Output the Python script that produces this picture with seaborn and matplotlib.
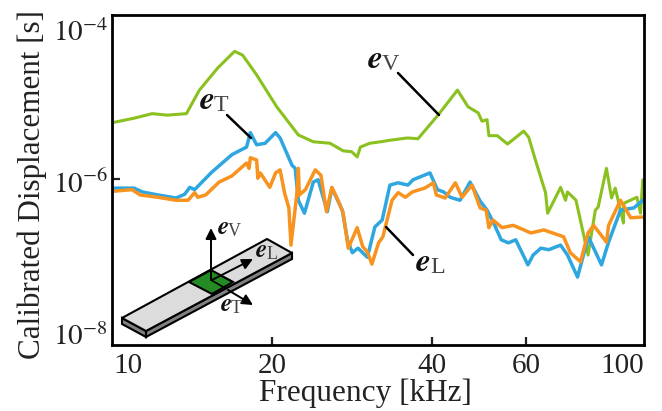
import numpy as np
import pandas as pd
import matplotlib
matplotlib.use('Agg')
import matplotlib.pyplot as plt
from matplotlib.patches import Polygon
from matplotlib.transforms import ScaledTranslation
import seaborn as sns

# frequency in kHz, displacement as log10(seconds)
freq_v = [10, 11, 11.9, 12.7, 13.8, 14.6, 15.8, 17.0, 17.6, 18.7, 20.4, 22.4, 23.9, 25.7, 27.2, 28.2, 28.9, 29.3,
          30.5, 32, 33.3, 35.9, 37.6, 41, 44.6, 46.7, 48.8, 49.6, 50.7, 51.1, 53, 55.4, 59.4, 60.7, 62.5, 65.3, 65.9,
          69.7, 71.2, 71.8, 74.5, 78.5, 81, 82, 85, 86.9, 88.3, 91.5, 91.6, 97, 98.5, 99.5]
log_v = [-5.26, -5.20, -5.14, -5.16, -5.14, -4.83, -4.54, -4.32, -4.37, -4.63, -5.05, -5.42, -5.51, -5.53, -5.63,
         -5.64, -5.71, -5.58, -5.53, -5.51, -5.49, -5.46, -5.47, -5.16, -4.83, -5.05, -5.13, -5.24, -5.22, -5.43,
         -5.43, -5.54, -5.37, -5.45, -5.75, -6.18, -6.45, -6.11, -6.28, -6.17, -6.28, -7.00, -6.41, -6.37, -5.86,
         -6.25, -6.12, -6.58, -6.32, -6.24, -6.45, -6.01]

freq_t = [10.1, 10.6, 11.0, 11.4, 12.2, 13.2, 13.7, 14.0, 14.3, 15.4, 16.8, 17.9, 18.2, 18.7, 19.4, 20.3, 20.7,
          21.8, 22.1, 22.4, 23.0, 23.9, 24.4, 25.4, 25.9, 27.1, 27.7, 28.3, 29.0, 30.2, 31.2, 32.2, 33.3, 34.5,
          36.0, 36.8, 39.6, 40.9, 42, 43.2, 45.1, 47.1, 49.2, 50.7, 52.1, 53.9, 55.6, 57.4, 60.5, 61.9, 64, 66.2,
          69.7, 71.8, 75, 78.6, 83.2, 85.7, 90.3, 95.7, 99.5]
log_t = [-6.12, -6.12, -6.12, -6.17, -6.21, -6.25, -6.20, -6.11, -6.14, -5.91, -5.68, -5.58, -5.39, -5.55, -5.53,
         -5.39, -5.46, -5.82, -5.86, -6.28, -6.45, -6.04, -6.01, -6.43, -6.12, -6.41, -6.80, -6.97, -6.91, -7.03,
         -6.63, -6.54, -6.08, -6.05, -6.08, -6.01, -5.92, -6.14, -6.17, -6.24, -6.28, -6.04, -6.29, -6.41, -6.57,
         -6.80, -6.84, -6.80, -7.13, -7.00, -6.91, -6.93, -6.87, -7.00, -7.29, -6.76, -7.13, -6.84, -6.41, -6.38,
         -6.28]

freq_l = [10.1, 10.9, 11.3, 12.2, 13.2, 13.9, 14.3, 14.5, 15, 15.9, 16.8, 17.9, 18.1, 18.2, 18.7, 18.8, 19, 19.8,
          20.3, 20.7, 21.1, 21.5, 21.7, 22.3, 22.4, 22.5, 23.1, 24.1, 24.7, 25.3, 25.9, 26.6, 27.2, 27.8, 28.9,
          29.6, 30.2, 30.8, 31.7, 32.3, 33.6, 34.5, 35.6, 36.7, 38.7, 40.2, 40.7, 42.3, 44.2, 45.5, 47.5, 49.2,
          50.5, 51.1, 52, 54.1, 56.8, 61.3, 64.8, 70.6, 72.7, 76, 78.5, 80.4, 85, 85.8, 90.3, 94.4, 99.5]
log_l = [-6.16, -6.14, -6.21, -6.24, -6.28, -6.28, -6.18, -6.24, -6.21, -6.04, -5.96, -5.79, -5.86, -5.72, -5.75,
         -5.99, -5.92, -6.11, -5.92, -5.88, -6.18, -6.38, -6.87, -6.14, -5.86, -6.21, -6.14, -5.88, -5.95, -6.43,
         -6.11, -6.28, -6.45, -6.91, -6.64, -6.89, -6.96, -7.12, -6.84, -6.76, -6.28, -6.18, -6.24, -6.17, -6.12,
         -6.05, -6.21, -6.25, -6.05, -6.24, -6.08, -6.38, -6.41, -6.64, -6.54, -6.64, -6.61, -6.71, -6.67, -6.76,
         -6.97, -7.09, -6.71, -6.61, -6.83, -6.61, -6.28, -6.51, -6.50]

x_ticks = [10, 20, 40, 60, 100]
y_ticks = [1e-8, 1e-6, 1e-4]
y_tick_labels = [r'$10^{-8}$', r'$10^{-6}$', r'$10^{-4}$']

sns.set_theme(style='ticks')
plt.rcParams['font.family'] = ['Liberation Serif', 'DejaVu Serif']
plt.rcParams['mathtext.fontset'] = 'stix'

fig = plt.figure(figsize=(6.62, 4.11), dpi=100)
ax = fig.add_axes([112 / 662, 1 - 345 / 411, 532 / 662, 330 / 411])

series = [(freq_v, log_v, '#8ac11f', 2.2), (freq_t, log_t, '#2ea7e0', 2.5), (freq_l, log_l, '#f7931e', 2.5)]
for f, lg, color, lw in series:
    df = pd.DataFrame({'freq': f, 'disp': np.power(10.0, lg)})
    sns.lineplot(data=df, x='freq', y='disp', ax=ax, color=color, linewidth=lw,
                 estimator=None, sort=False)

ax.set_xscale('log')
ax.set_yscale('log')
ax.set_xlim(10, 100)
ax.set_ylim(10 ** (-6 - 166 / 76), 10 ** (-6 + 164 / 76))
ax.set_xticks(x_ticks)
ax.set_xticklabels([str(t) for t in x_ticks], fontsize=21)
ax.set_yticks(y_ticks)
ax.set_yticklabels(y_tick_labels, fontsize=21)
ax.minorticks_off()
ax.tick_params(axis='y', direction='in', length=6, width=1.6, pad=3, colors='#222222')
ax.tick_params(axis='x', direction='in', length=6, width=1.6, pad=6, colors='#222222')
# only the middle y tick mark shows in the original, and no marks at the x ends
for i in [0, 2]:
    ax.yaxis.get_major_ticks()[i].tick1line.set_visible(False)
for i in [0, 4]:
    ax.xaxis.get_major_ticks()[i].tick1line.set_visible(False)
# the end labels sit inside the axes width
x_labels = ax.get_xticklabels()
x_labels[0].set_ha('left')
x_labels[0].set_transform(x_labels[0].get_transform() + ScaledTranslation(1 / 100, 0, fig.dpi_scale_trans))
x_labels[-1].set_ha('right')
# y labels sit a little below their ticks
for lab in ax.get_yticklabels():
    lab.set_transform(lab.get_transform() + ScaledTranslation(0, -3 / 100, fig.dpi_scale_trans))

ax.set_xlabel('Frequency [kHz]', fontsize=22.5, color='#222222', va='center')
ax.xaxis.set_label_coords(0.477, -0.145)
ax.set_ylabel('Calibrated Displacement [s]', fontsize=22.4, color='#222222', va='center')
ax.yaxis.set_label_coords(-0.15, 0.485)
for s in ax.spines.values():
    s.set_visible(True)
    s.set_linewidth(2)
    s.set_color('black')

# overlay in pixel coordinates for the leaders and the beam sketch
ov = fig.add_axes([0, 0, 1, 1], facecolor='none')
ov.set_xlim(0, 662)
ov.set_ylim(411, 0)
ov.axis('off')

for (x0, y0, x1, y1) in [(227, 115, 251, 138), (398, 73, 439, 115), (386, 227, 413, 255)]:
    ov.plot([x0, x1], [y0, y1], color='black', lw=1.8)


def e_label(x, y, sub, size=24):
    ov.text(x, y, r'$\boldsymbol{e}$', fontsize=size, ha='left', va='center', color='#111111')
    ov.text(x + size * 0.62, y + size * 0.2, sub, fontsize=size * 0.72, ha='left', va='center', color='#444444')


e_label(367, 60, 'V')
e_label(199, 101, 'T')
e_label(415, 263, 'L')

# beam
ov.add_patch(Polygon([(122, 318), (146, 331), (146, 337), (122, 324)], fc='#808080', ec='black', lw=1.5))
ov.add_patch(Polygon([(146, 331), (292, 253), (292, 259), (146, 337)], fc='#808080', ec='black', lw=1.5))
ov.add_patch(Polygon([(122, 318), (267, 239), (292, 253), (146, 331)], fc='#dcdcdc', ec='black', lw=1.5))
ov.add_patch(Polygon([(189, 282), (211, 270), (233, 282), (212, 294)], fc='#248a24', ec='black', lw=1.5))
ov.plot([211, 211], [270, 280], color='black', lw=1.2)
ov.plot([211, 225], [280, 288], color='black', lw=1.2)
ov.plot([220, 233], [275, 282], color='black', lw=1.2)
for (x0, y0, x1, y1) in [(211, 278, 211, 228), (212, 280, 253, 259), (228, 290, 253, 305)]:
    ov.annotate('', xy=(x1, y1), xytext=(x0, y0),
                arrowprops=dict(arrowstyle='-|>', color='black', lw=1.4, mutation_scale=16, shrinkA=0, shrinkB=0))
e_label(217, 228, 'V', size=18)
e_label(255, 251, 'L', size=18)
e_label(220, 305, 'T', size=18)

fig.savefig('out.png', dpi=100)
